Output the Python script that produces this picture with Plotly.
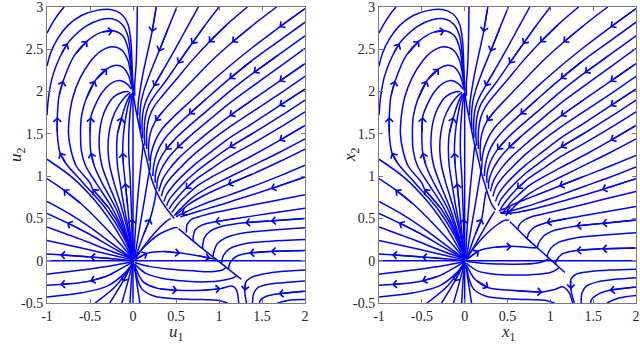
import plotly.graph_objects as go

BLUE = "#0000ff"

# ---------------- streamlines, left panel (u1, u2) ----------------
# outer arcs entering from the left edge
edge_arcs_u = [
    [(-1.0, 2.69), (-0.93, 2.82), (-0.85, 2.94), (-0.8, 3.0)],
    [(-1.0, 2.30), (-0.96, 2.45), (-0.88, 2.62), (-0.76, 2.78), (-0.6, 2.9), (-0.42, 2.96), (-0.26, 2.97),
     (-0.14, 2.92), (-0.06, 2.8), (-0.025, 2.6), (-0.01, 2.3), (0.0, 2.03)],
    [(-1.0, 1.72), (-0.98, 1.95), (-0.93, 2.2), (-0.84, 2.43), (-0.76, 2.57), (-0.71, 2.63), (-0.55, 2.77),
     (-0.38, 2.85), (-0.24, 2.86), (-0.13, 2.8), (-0.06, 2.66), (-0.03, 2.45), (-0.012, 2.2), (0.0, 2.02)],
]

# arcs leaving the origin, climbing on the left and falling into (0, 2)
arcs_u = [
    [(0, 0.03), (-0.12, 0.3), (-0.32, 0.62), (-0.58, 0.92), (-0.78, 1.15), (-0.85, 1.28), (-0.88, 1.5),
     (-0.88, 1.7), (-0.86, 1.95), (-0.81, 2.13), (-0.68, 2.43), (-0.53, 2.6), (-0.37, 2.7), (-0.23, 2.72),
     (-0.12, 2.66), (-0.06, 2.52), (-0.03, 2.32), (-0.01, 2.12), (0, 2.01)],
    [(0, 0.03), (-0.1, 0.3), (-0.28, 0.62), (-0.47, 0.85), (-0.5, 0.92), (-0.66, 1.12), (-0.72, 1.3),
     (-0.75, 1.5), (-0.74, 1.7), (-0.7, 1.93), (-0.62, 2.15), (-0.5, 2.35), (-0.37, 2.48), (-0.24, 2.53),
     (-0.13, 2.49), (-0.06, 2.37), (-0.025, 2.2), (0, 2.01)],
    [(0, 0.03), (-0.09, 0.3), (-0.24, 0.62), (-0.43, 0.92), (-0.55, 1.12), (-0.6, 1.3), (-0.61, 1.5),
     (-0.6, 1.7), (-0.55, 1.9), (-0.44, 2.13), (-0.3, 2.27), (-0.2, 2.31), (-0.12, 2.29), (-0.06, 2.21),
     (-0.025, 2.1), (0, 2.0)],
    [(0, 0.03), (-0.08, 0.3), (-0.2, 0.62), (-0.36, 0.92), (-0.45, 1.12), (-0.49, 1.28), (-0.5, 1.5),
     (-0.49, 1.7), (-0.43, 1.86), (-0.35, 2.0), (-0.25, 2.1), (-0.15, 2.13), (-0.07, 2.09), (-0.02, 2.03)],
    [(0, 0.03), (-0.07, 0.3), (-0.17, 0.62), (-0.29, 0.92), (-0.36, 1.12), (-0.39, 1.3), (-0.39, 1.5),
     (-0.36, 1.68), (-0.3, 1.83), (-0.22, 1.94), (-0.13, 1.99), (-0.05, 2.0)],
    [(0, 0.03), (-0.05, 0.3), (-0.13, 0.62), (-0.22, 0.92), (-0.27, 1.12), (-0.29, 1.3), (-0.28, 1.5),
     (-0.24, 1.68), (-0.17, 1.83), (-0.09, 1.94), (-0.03, 1.99)],
    [(0, 0.03), (-0.04, 0.3), (-0.1, 0.62), (-0.15, 0.92), (-0.18, 1.12), (-0.19, 1.3), (-0.18, 1.5),
     (-0.13, 1.7), (-0.08, 1.86), (-0.03, 1.97)],
    [(0, 0.03), (-0.03, 0.3), (-0.06, 0.62), (-0.09, 0.92), (-0.11, 1.12), (-0.12, 1.28), (-0.11, 1.5),
     (-0.08, 1.72), (-0.04, 1.9), (-0.01, 1.98)],
    [(0, 0.03), (-0.015, 0.5), (-0.03, 0.92), (-0.05, 1.3), (-0.045, 1.6), (-0.02, 1.88), (0, 1.99)],
    [(0, -0.5), (0, 1.99)],
]

# lines from the origin leaving through the left and bottom edges
fan_u = [
    [(0, 0.02), (-0.1, 0.2), (-0.25, 0.45), (-0.45, 0.72), (-0.7, 0.98), (-1.0, 1.2)],
    [(0, 0.02), (-0.15, 0.2), (-0.35, 0.42), (-0.6, 0.67), (-0.81, 0.84), (-1.0, 0.97)],
    [(0, 0.02), (-0.2, 0.17), (-0.45, 0.36), (-0.7, 0.53), (-1.0, 0.70)],
    [(0, 0.02), (-0.25, 0.16), (-0.5, 0.31), (-0.77, 0.45), (-1.0, 0.56)],
    [(0, 0.02), (-0.3, 0.13), (-0.6, 0.25), (-1.0, 0.40)],
    [(0, 0.01), (-0.3, 0.08), (-0.6, 0.15), (-1.0, 0.24)],
    [(0, 0.0), (-0.2, 0.02), (-0.5, 0.045), (-0.85, 0.07), (-1.0, 0.08)],
    [(-1.0, 0.0), (2.0, 0.0)],
    [(0, -0.01), (-0.25, -0.06), (-0.6, -0.11), (-1.0, -0.16)],
    [(0, -0.01), (-0.15, -0.1), (-0.3, -0.18), (-0.5, -0.24), (-0.7, -0.27), (-0.85, -0.28), (-1.0, -0.29)],
    [(0, -0.02), (-0.1, -0.15), (-0.3, -0.3), (-0.6, -0.38), (-1.0, -0.43)],
    [(0, -0.02), (-0.2, -0.3), (-0.44, -0.5)],
    [(0, -0.02), (-0.12, -0.25), (-0.27, -0.5)],
    [(0, -0.02), (-0.06, -0.25), (-0.13, -0.5)],
    [(0, -0.02), (-0.02, -0.25), (-0.035, -0.5)],
]

# lines from the origin joining the slow curve from below
rise_u = [
    [(0.01, 0.04), (0.03, 0.4), (0.06, 0.8), (0.1, 1.2), (0.12, 1.38)],
    [(0.02, 0.04), (0.07, 0.35), (0.13, 0.7), (0.18, 1.0), (0.2, 1.1)],
    [(0.03, 0.04), (0.12, 0.3), (0.2, 0.5), (0.25, 0.7), (0.27, 0.82)],
    [(0.03, 0.03), (0.15, 0.2), (0.28, 0.36), (0.38, 0.46), (0.44, 0.5)],
]

# slow curve from (0, 2), lens top and diagonal
spine_u = [
    [(0, 2.0), (0.03, 1.8), (0.07, 1.6), (0.11, 1.4), (0.16, 1.2), (0.2, 1.02), (0.25, 0.87), (0.31, 0.74),
     (0.38, 0.63), (0.44, 0.55), (0.48, 0.5)],
    [(0.01, 0.02), (0.1, 0.13), (0.2, 0.23), (0.3, 0.31), (0.4, 0.36), (0.48, 0.39), (0.52, 0.39)],
    [(1.26, -0.22), (1.0, -0.01), (0.75, 0.19), (0.53, 0.38)],
]

# lines inside the lens below the diagonal
lens_u = [
    [(0.02, 0.01), (0.17, 0.09), (0.35, 0.11), (0.55, 0.09), (0.75, 0.06), (0.9, 0.03), (0.96, 0.02)],
    [(0.02, -0.02), (0.2, -0.07), (0.45, -0.1), (0.7, -0.12), (0.9, -0.13), (1.04, -0.11), (1.08, -0.08)],
    [(0.02, -0.04), (0.15, -0.15), (0.35, -0.21), (0.6, -0.24), (0.85, -0.25), (1.05, -0.23), (1.17, -0.2),
     (1.2, -0.18)],
    [(0.02, -0.06), (0.12, -0.25), (0.3, -0.33), (0.52, -0.35), (0.8, -0.35), (1.02, -0.33), (1.15, -0.3),
     (1.2, -0.34), (1.23, -0.5)],
    [(0.02, -0.08), (0.1, -0.33), (0.25, -0.42), (0.5, -0.45), (0.8, -0.46), (1.0, -0.47), (1.1, -0.5)],
    [(0.01, -0.03), (0.05, -0.3), (0.08, -0.5)],
]

# lines from the lower right passing the saddle and leaving downwards
saddle_u = [
    [(2.0, -0.11), (1.7, -0.13), (1.5, -0.16), (1.37, -0.2), (1.31, -0.26), (1.3, -0.36), (1.32, -0.5)],
    [(2.0, -0.24), (1.75, -0.26), (1.57, -0.28), (1.45, -0.32), (1.4, -0.4), (1.39, -0.5)],
    [(2.0, -0.36), (1.69, -0.39), (1.55, -0.42), (1.48, -0.47), (1.47, -0.5)],
    [(2.0, -0.46), (1.8, -0.47), (1.68, -0.5)],
]

# lines from the top and right edges heading down-left and hooking onto the slow curve
upper_top = [
    [(0.05, 3.0), (0.045, 2.6), (0.035, 2.3), (0.02, 2.1), (0.02, 1.95)],
    [(0.27, 3.0), (0.22, 2.7), (0.16, 2.42), (0.11, 2.18), (0.08, 2.0), (0.06, 1.85), (0.055, 1.72)],
    [(0.51, 3.0), (0.41, 2.75), (0.3, 2.47), (0.2, 2.22), (0.13, 2.02), (0.095, 1.88), (0.08, 1.72),
     (0.085, 1.55)],
    [(0.76, 3.0), (0.64, 2.78), (0.5, 2.52), (0.36, 2.27), (0.24, 2.06), (0.16, 1.91), (0.12, 1.78), (0.105, 1.62),
     (0.11, 1.45)],
    [(1.0, 3.0), (0.85, 2.8), (0.68, 2.56), (0.52, 2.33), (0.37, 2.11), (0.25, 1.95), (0.18, 1.83), (0.14, 1.68),
     (0.13, 1.5), (0.14, 1.36)],
    [(1.33, 3.0), (1.1, 2.8), (0.88, 2.58), (0.68, 2.36), (0.5, 2.14), (0.35, 1.96), (0.25, 1.83), (0.19, 1.7),
     (0.16, 1.52), (0.16, 1.32)],
    [(1.67, 3.0), (1.4, 2.79), (1.15, 2.58), (0.9, 2.35), (0.68, 2.12), (0.5, 1.93), (0.36, 1.78), (0.26, 1.65),
     (0.2, 1.5), (0.18, 1.3), (0.19, 1.18)],
    [(2.0, 2.98), (1.7, 2.76), (1.4, 2.53), (1.12, 2.3), (0.86, 2.07), (0.64, 1.86), (0.47, 1.7), (0.34, 1.56),
     (0.26, 1.42), (0.21, 1.26), (0.2, 1.1)],
    [(2.0, 2.82), (1.7, 2.6), (1.4, 2.38), (1.12, 2.15), (0.87, 1.93), (0.65, 1.73), (0.48, 1.57), (0.36, 1.43),
     (0.28, 1.28), (0.24, 1.12), (0.23, 1.0)],
    [(2.0, 2.66), (1.7, 2.44), (1.4, 2.22), (1.12, 2.0), (0.88, 1.79), (0.66, 1.6), (0.5, 1.45), (0.38, 1.31),
     (0.3, 1.17), (0.26, 1.02), (0.26, 0.92)],
    [(2.0, 2.51), (1.7, 2.29), (1.4, 2.07), (1.12, 1.86), (0.88, 1.66), (0.67, 1.48), (0.51, 1.33), (0.4, 1.2),
     (0.32, 1.06), (0.28, 0.93), (0.28, 0.85)],
    [(2.0, 2.33), (1.7, 2.12), (1.4, 1.91), (1.12, 1.71), (0.88, 1.52), (0.68, 1.35), (0.53, 1.21), (0.42, 1.08),
     (0.34, 0.95), (0.3, 0.82)],
    [(2.0, 2.18), (1.7, 1.97), (1.4, 1.77), (1.12, 1.58), (0.88, 1.4), (0.69, 1.24), (0.55, 1.1), (0.44, 0.98),
     (0.36, 0.86), (0.33, 0.76)],
    [(2.0, 2.03), (1.7, 1.83), (1.4, 1.63), (1.12, 1.45), (0.9, 1.28), (0.71, 1.13), (0.57, 1.0), (0.46, 0.88),
     (0.39, 0.78), (0.36, 0.7)],
    [(2.0, 1.90), (1.7, 1.7), (1.4, 1.51), (1.12, 1.34), (0.9, 1.18), (0.72, 1.04), (0.59, 0.92), (0.49, 0.81),
     (0.42, 0.72), (0.39, 0.65)],
    [(2.0, 1.76), (1.7, 1.57), (1.4, 1.39), (1.12, 1.23), (0.9, 1.08), (0.73, 0.96), (0.61, 0.85), (0.52, 0.75),
     (0.45, 0.66), (0.42, 0.61)],
    [(2.0, 1.60), (1.7, 1.42), (1.4, 1.25), (1.12, 1.1), (0.9, 0.98), (0.74, 0.88), (0.63, 0.78), (0.54, 0.69),
     (0.48, 0.61), (0.45, 0.57)],
    [(2.0, 1.44), (1.7, 1.28), (1.4, 1.13), (1.12, 0.99), (0.9, 0.88), (0.75, 0.79), (0.65, 0.71), (0.57, 0.63),
     (0.51, 0.57), (0.48, 0.53)],
]

# lower lines from the right edge, left panel
lower_u = [
    [(2.0, 1.32), (1.7, 1.17), (1.4, 1.03), (1.1, 0.9), (0.9, 0.81), (0.75, 0.73), (0.64, 0.66), (0.57, 0.6),
     (0.5, 0.54)],
    [(2.0, 1.13), (1.7, 1.0), (1.4, 0.88), (1.1, 0.77), (0.9, 0.7), (0.75, 0.64), (0.64, 0.59), (0.56, 0.55),
     (0.5, 0.52)],
    [(2.0, 0.99), (1.6, 0.85), (1.2, 0.72), (0.95, 0.64), (0.78, 0.59), (0.65, 0.55), (0.55, 0.52)],
    [(2.0, 0.78), (1.6, 0.7), (1.2, 0.62), (0.95, 0.57), (0.8, 0.53), (0.68, 0.49), (0.63, 0.43), (0.62, 0.33)],
    [(2.0, 0.62), (1.6, 0.56), (1.2, 0.5), (0.95, 0.46), (0.8, 0.42), (0.72, 0.36), (0.7, 0.28), (0.7, 0.23)],
    [(2.0, 0.50), (1.6, 0.47), (1.3, 0.45), (1.05, 0.41), (0.9, 0.35), (0.83, 0.27), (0.81, 0.17), (0.81, 0.14)],
    [(2.0, 0.39), (1.6, 0.36), (1.3, 0.33), (1.1, 0.28), (0.98, 0.2), (0.94, 0.1), (0.93, 0.05)],
    [(2.0, 0.25), (1.6, 0.23), (1.3, 0.2), (1.12, 0.14), (1.05, 0.06), (1.03, -0.03)],
    [(2.0, 0.12), (1.6, 0.11), (1.35, 0.09), (1.2, 0.05), (1.13, -0.02), (1.11, -0.1)],
]

# ---------------- right panel (x1, x2): lower region differs ----------------
rise_x = [
    [(0.01, 0.04), (0.03, 0.4), (0.06, 0.8), (0.1, 1.2), (0.12, 1.38)],
    [(0.02, 0.04), (0.07, 0.35), (0.13, 0.7), (0.18, 1.0), (0.2, 1.1)],
    [(0.03, 0.04), (0.12, 0.3), (0.2, 0.5), (0.23, 0.7), (0.25, 0.82)],
    [(0.03, 0.03), (0.14, 0.22), (0.24, 0.4), (0.31, 0.52), (0.35, 0.58)],
]

spine_x = [
    [(0, 2.0), (0.03, 1.8), (0.07, 1.6), (0.11, 1.4), (0.16, 1.2), (0.2, 1.02), (0.24, 0.89), (0.28, 0.76),
     (0.32, 0.66), (0.36, 0.6)],
    [(0.01, 0.02), (0.1, 0.14), (0.2, 0.26), (0.3, 0.36), (0.4, 0.44), (0.47, 0.48), (0.52, 0.48)],
    [(1.17, -0.14), (0.95, 0.06), (0.72, 0.27), (0.53, 0.46)],
]

lens_x = [
    [(0.02, 0.01), (0.17, 0.12), (0.35, 0.16), (0.55, 0.17), (0.72, 0.16), (0.84, 0.15)],
    [(0.02, -0.01), (0.2, -0.03), (0.45, -0.04), (0.7, -0.04), (0.88, -0.02), (0.98, 0.02)],
    [(0.02, -0.03), (0.15, -0.12), (0.35, -0.16), (0.6, -0.17), (0.85, -0.16), (1.0, -0.14), (1.08, -0.1),
     (1.1, -0.08)],
    [(0.02, -0.05), (0.12, -0.22), (0.28, -0.32), (0.55, -0.35), (0.91, -0.37), (1.05, -0.34), (1.15, -0.31),
     (1.22, -0.38), (1.26, -0.5)],
    [(0.02, -0.08), (0.1, -0.33), (0.25, -0.42), (0.5, -0.45), (0.75, -0.46), (0.95, -0.47), (1.05, -0.5)],
    [(0.01, -0.03), (0.05, -0.3), (0.08, -0.5)],
]

saddle_x = [
    [(2.0, -0.1), (1.7, -0.11), (1.45, -0.13), (1.3, -0.16), (1.24, -0.22), (1.24, -0.34), (1.28, -0.5)],
    [(2.0, -0.2), (1.75, -0.22), (1.55, -0.25), (1.42, -0.3), (1.37, -0.38), (1.36, -0.5)],
    [(2.0, -0.31), (1.69, -0.35), (1.55, -0.4), (1.48, -0.46), (1.47, -0.5)],
    [(2.0, -0.41), (1.8, -0.44), (1.66, -0.5)],
]

lower_x = [
    [(2.0, 1.245), (1.7, 1.12), (1.4, 1.0), (1.1, 0.88), (0.9, 0.8), (0.72, 0.73), (0.58, 0.67), (0.48, 0.62),
     (0.4, 0.59)],
    [(2.0, 1.11), (1.7, 0.99), (1.4, 0.88), (1.1, 0.77), (0.9, 0.7), (0.72, 0.64), (0.58, 0.6), (0.48, 0.58),
     (0.41, 0.57)],
    [(2.0, 0.97), (1.6, 0.84), (1.2, 0.72), (0.95, 0.65), (0.75, 0.6), (0.6, 0.57), (0.5, 0.56), (0.42, 0.56)],
    [(2.0, 0.82), (1.6, 0.72), (1.2, 0.62), (0.95, 0.56), (0.78, 0.52), (0.68, 0.47), (0.63, 0.41), (0.62, 0.37)],
    [(2.0, 0.64), (1.6, 0.57), (1.2, 0.5), (0.95, 0.45), (0.82, 0.4), (0.75, 0.33), (0.73, 0.26)],
    [(2.0, 0.48), (1.6, 0.44), (1.3, 0.41), (1.05, 0.36), (0.92, 0.29), (0.86, 0.2), (0.85, 0.15)],
    [(2.0, 0.33), (1.6, 0.3), (1.3, 0.27), (1.1, 0.22), (1.0, 0.14), (0.96, 0.05)],
    [(2.0, 0.15), (1.6, 0.14), (1.3, 0.12), (1.14, 0.08), (1.07, 0.0), (1.06, -0.05)],
]

# arrowheads: (streamline, index of the point the head sits on)
arrows_top = [
    (arcs_u[0], 5), (arcs_u[0], 7), (arcs_u[0], 9), (edge_arcs_u[2], 4), (arcs_u[0], 11), (arcs_u[0], 13),
    (arcs_u[3], 5), (arcs_u[3], 7), (arcs_u[2], 9), (arcs_u[2], 10), (arcs_u[7], 5), (arcs_u[6], 7),
    (arcs_u[1], 3), (arcs_u[7], 3), (arcs_u[8], 1),
    (fan_u[1], 4), (fan_u[3], 3), (fan_u[6], 2), (fan_u[6], 3), (fan_u[9], 3), (fan_u[9], 5), (fan_u[12], 1),
    (upper_top[1], 1), (upper_top[2], 2), (upper_top[4], 2), (upper_top[5], 2), (upper_top[6], 2),
    (upper_top[7], 1), (upper_top[3], 4), (upper_top[4], 3), (upper_top[8], 3), (upper_top[9], 2),
    (upper_top[11], 1), (upper_top[6], 7), (upper_top[8], 5), (upper_top[11], 3), (upper_top[13], 1),
    (upper_top[9], 7), (upper_top[10], 6), (upper_top[14], 3), (upper_top[16], 1), (upper_top[15], 6),
]
arrows_u = arrows_top + [
    (rise_u[2], 2), (lower_u[2], 1), (lower_u[0], 3), (lower_u[1], 7), (lower_u[4], 3), (lower_u[5], 2),
    (lower_u[5], 1), (lower_u[8], 2), (lower_u[8], 1),
    (lens_u[0], 1), (lens_u[0], 3), (lens_u[0], 5), (lens_u[3], 3), (lens_u[3], 5),
    (saddle_u[2], 1), (saddle_u[0], 5),
]
arrows_x = arrows_top + [
    (rise_x[2], 2), (lower_x[2], 1), (lower_x[0], 3), (lower_x[1], 7), (lower_x[4], 3), (lower_x[5], 2),
    (lower_x[5], 1), (lower_x[7], 2), (lower_x[7], 1),
    (lens_x[0], 1), (lens_x[0], 3), (lens_x[3], 2), (lens_x[3], 4),
    (saddle_x[2], 1), (saddle_x[0], 5),
]

left_lines = edge_arcs_u + arcs_u + fan_u + rise_u + spine_u + lens_u + saddle_u + upper_top + lower_u
right_lines = edge_arcs_u + arcs_u + fan_u + rise_x + spine_x + lens_x + saddle_x + upper_top + lower_x


def line_trace(lines, xa, ya):
    xs, ys = [], []
    for ln in lines:
        xs += [p[0] for p in ln] + [None]
        ys += [p[1] for p in ln] + [None]
    return go.Scatter(x=xs, y=ys, mode="lines", line=dict(color=BLUE, width=1.5, shape="spline", smoothing=0.9),
                      xaxis=xa, yaxis=ya, hoverinfo="skip")


def add_arrows(fig, arrows, xref, yref):
    for ln, k in arrows:
        (x0, y0), (x1, y1) = ln[k - 1], ln[k]
        fig.add_annotation(x=x1, y=y1, ax=x0, ay=y0, xref=xref, yref=yref, axref=xref, ayref=yref,
                           text="", showarrow=True, arrowhead=4, arrowsize=1.05, arrowwidth=1.4,
                           arrowcolor=BLUE, standoff=0)


fig = go.Figure()
fig.add_trace(line_trace(left_lines, "x", "y"))
fig.add_trace(line_trace(right_lines, "x2", "y2"))
add_arrows(fig, arrows_u, "x", "y")
add_arrows(fig, arrows_x, "x2", "y2")

tick_font = dict(family="Liberation Serif", size=14, color="#262626")
xticks = [-1, -0.5, 0, 0.5, 1, 1.5, 2]
yticks = [-0.5, 0, 0.5, 1, 1.5, 2, 2.5, 3]
axis_common = dict(showgrid=False, zeroline=False, showline=True, linecolor="#7a7a7a", linewidth=1,
                   mirror="ticks", ticks="inside", ticklen=4, tickcolor="#7a7a7a", tickfont=tick_font,
                   automargin=False, ticklabeloverflow="allow")

fig.update_layout(
    width=640, height=349,
    margin=dict(l=0, r=0, t=0, b=0),
    paper_bgcolor="white", plot_bgcolor="white",
    showlegend=False,
    xaxis=dict(domain=[47 / 640, 305 / 640], range=[-1, 2], tickvals=xticks,
               ticktext=[str(v) for v in xticks], anchor="y", **axis_common),
    yaxis=dict(domain=[46 / 349, 342 / 349], range=[-0.5, 3], tickvals=yticks,
               ticktext=[str(v) for v in yticks], anchor="x", **axis_common),
    xaxis2=dict(domain=[379 / 640, 636 / 640], range=[-1, 2], tickvals=xticks,
                ticktext=[str(v) for v in xticks], anchor="y2", **axis_common),
    yaxis2=dict(domain=[46 / 349, 342 / 349], range=[-0.5, 3], tickvals=yticks,
                ticktext=[str(v) for v in yticks], anchor="x2", **axis_common),
)

title_font = dict(family="Liberation Serif", size=17, color="#262626")
for text, x, y, ang in [("<i>u</i><sub>1</sub>", 176, 333, 0), ("<i>u</i><sub>2</sub>", 17, 155, -90),
                        ("<i>x</i><sub>1</sub>", 508, 333, 0), ("<i>x</i><sub>2</sub>", 351, 155, -90)]:
    fig.add_annotation(text=text, x=x / 640, y=1 - y / 349, xref="paper", yref="paper",
                       xanchor="center", yanchor="middle", showarrow=False, font=title_font, textangle=ang)

# the page body has a default margin; drop it so the figure sits at the window corner
fig.write_html("out.html", config={"displayModeBar": False},
               post_script="document.body.style.margin='0';")
